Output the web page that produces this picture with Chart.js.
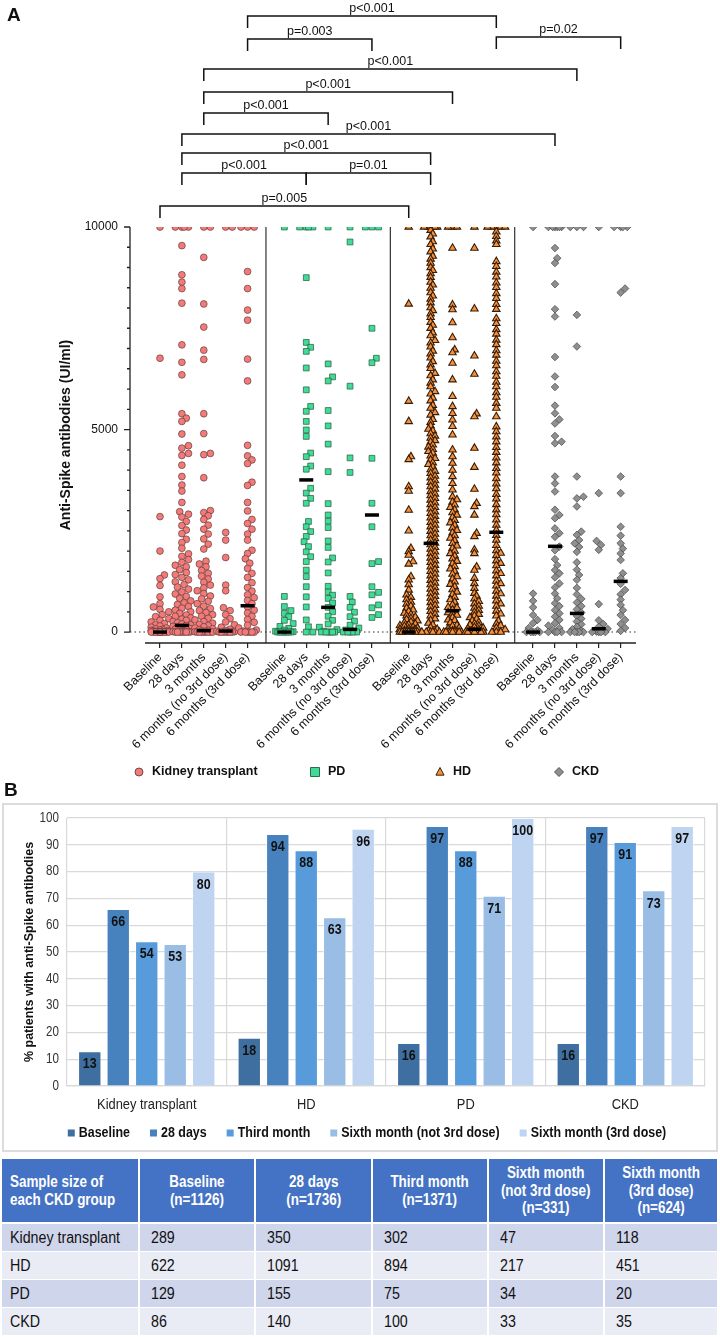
<!DOCTYPE html>
<html>
<head>
<meta charset="utf-8">
<script src="https://cdn.jsdelivr.net/npm/chart.js@4/dist/chart.umd.min.js"></script>
<style>
  body { margin: 0; background: #fff; }
  #page { position: relative; width: 720px; height: 1337px; overflow: hidden; }
  .panel-label { position: absolute; font-family: 'Liberation Sans', Arial, sans-serif; font-weight: bold; font-size: 19px; color: #111; }
  #boxB { position: absolute; left: 2px; top: 803px; width: 716px; height: 349px; box-sizing: border-box; border: 2px solid #dcdcdc; }
  #sizes { position: absolute; left: 2px; top: 1159px; width: 716px; border-collapse: collapse; table-layout: fixed;
           font-family: 'Liberation Sans', Arial, sans-serif; font-size: 16px; }
  #sizes th { background: #4472c4; color: #fff; font-weight: bold; font-size: 17px; height: 63px; line-height: 17.5px; padding: 0;
              border-right: 2px solid #fff; border-bottom: 2px solid #fff; text-align: center; overflow: visible; }
  #sizes th:first-child { text-align: left; padding-left: 8px; }
  #sizes td { height: 27px; padding: 0 0 0 11px; color: #111; border-right: 2px solid #fff; border-bottom: 1.5px solid #fff; overflow: visible; }
  #sizes td:first-child { padding-left: 8px; }
  #sizes tbody tr:nth-child(odd) td { background: #cfd5ea; }
  #sizes tbody tr:nth-child(even) td { background: #e9ebf5; }
  /* condensed look: no narrow face is installed, so squeeze the text */
  .nh { display: inline-block; white-space: nowrap; transform: scaleX(0.79); transform-origin: center center; }
  th:first-child .nh { transform-origin: left center; }
  .nb { display: inline-block; white-space: nowrap; transform: scaleX(0.89); transform-origin: left center; }
</style>
</head>
<body>
<div id="page">
  <canvas id="chartA" width="720" height="800" style="position:absolute;left:0;top:0;"></canvas>
  <div class="panel-label" style="left:7px;top:4px;">A</div>
  <div class="panel-label" style="left:4px;top:779px;">B</div>
  <div id="boxB"><canvas id="chartB" width="712" height="345"></canvas></div>
  <table id="sizes"><colgroup></colgroup><thead></thead><tbody></tbody></table>
</div>
<script>
// ---------- panel A data ----------
const timepoints = ['Baseline', '28 days', '3 months', '6 months (no 3rd dose)', '6 months (3rd dose)'];
const groupsA = ['Kidney transplant', 'PD', 'HD', 'CKD'];

const kidneyBaseline = [10000, 6760, 2850, 2000, 1410, 1320, 1150, 870, 700, 620, 560, 500, 430, 380, 330, 290, 250, 210, 180, 150, 120, 100, 80, 65, 50, 40, 30, 25, 20, 15, 10, 8, 5, 3, 0, 0, 0, 0, 0, 0, 0, 0, 0, 0, 0];
const kidney28d = [10000, 10000, 10000, 10000, 9540, 8820, 8640, 8480, 8120, 7090, 6660, 6350, 5390, 5280, 5200, 4890, 4600, 4540, 4410, 4360, 4120, 3840, 3630, 3480, 3200, 2970, 2910, 2840, 2730, 2630, 2520, 2430, 2290, 2210, 2070, 1930, 1870, 1790, 1720, 1650, 1610, 1540, 1470, 1420, 1350, 1290, 1240, 1170, 1110, 1060, 990, 940, 880, 830, 770, 720, 680, 630, 590, 540, 500, 460, 420, 390, 350, 320, 290, 260, 230, 200, 180, 160, 140, 120, 100, 80, 70, 60, 45, 30, 20, 10, 5, 0, 0, 0, 0, 0, 0, 0];
const kidney3m = [10000, 10000, 9250, 8100, 7530, 6960, 6730, 5390, 4900, 4410, 4380, 3810, 3000, 2950, 2870, 2780, 2640, 2540, 2420, 2300, 2170, 2050, 1750, 1680, 1610, 1520, 1450, 1380, 1310, 1230, 1160, 1090, 1020, 950, 890, 820, 760, 700, 640, 580, 530, 480, 430, 390, 340, 300, 260, 220, 190, 160, 130, 100, 80, 60, 40, 30, 20, 10, 5, 0, 0, 0, 0, 0, 0, 0, 0];
const kidney6mNo3rd = [10000, 10000, 2460, 2270, 1840, 1160, 1020, 600, 530, 430, 330, 250, 180, 120, 70, 40, 20, 10, 0, 0, 0, 0, 0, 0, 0];
const kidney6m3rd = [10000, 10000, 10000, 8900, 8480, 7950, 7700, 6740, 6200, 4610, 4350, 4250, 4160, 3700, 3620, 3200, 2990, 2780, 2680, 2540, 2420, 2270, 2020, 1940, 1810, 1700, 1570, 1450, 1350, 1220, 1100, 1010, 920, 850, 780, 700, 620, 540, 470, 390, 310, 240, 170, 100, 50, 20, 0, 0, 0, 0, 0, 0];

const pdBaseline = [10000, 880, 630, 530, 460, 380, 290, 210, 140, 90, 50, 20, 10, 0, 0, 0, 0, 0, 0, 0];
const pd28d = [10000, 10000, 10000, 10000, 8750, 7150, 7030, 6930, 6520, 5980, 5570, 5450, 5200, 4990, 4830, 4420, 4330, 4100, 4020, 3550, 3430, 3300, 3180, 2730, 2600, 2480, 2360, 2230, 2110, 1980, 1860, 1740, 1530, 1370, 1120, 870, 620, 300, 130, 0, 0];
const pd3m = [10000, 6620, 6300, 6200, 5470, 5090, 4640, 3960, 3170, 2890, 2740, 2580, 2250, 2090, 1830, 1730, 1460, 1130, 990, 910, 830, 720, 610, 500, 390, 290, 200, 120, 60, 20, 0, 0, 0, 0, 0, 0];
const pd6mNo3rd = [10000, 9630, 6070, 4300, 3940, 880, 740, 610, 490, 380, 270, 170, 100, 50, 20, 0, 0, 0, 0, 0];
const pd6m3rd = [10000, 10000, 10000, 7500, 6760, 6650, 4290, 3180, 2600, 1740, 1690, 1120, 980, 920, 670, 600, 430, 360];

const hdBaseline = [10000, 8100, 5700, 5200, 4330, 4260, 3590, 3480, 3010, 2500, 2070, 1990, 1900, 1740, 1680, 1370, 1290, 1170, 1040, 920, 860, 800, 740, 690, 640, 590, 550, 510, 470, 430, 400, 370, 340, 310, 280, 250, 230, 200, 180, 160, 140, 120, 100, 85, 70, 55, 40, 30, 20, 10, 5, 0, 0, 0, 0, 0, 0, 0, 0, 0, 0, 0, 0, 0, 0, 0, 0, 0, 0, 0, 0];
const hd28d = [10000, 10000, 10000, 10000, 10000, 10000, 9920, 9830, 9760, 9640, 9570, 9460, 9390, 9280, 9210, 9110, 9000, 8930, 8850, 8760, 8640, 8570, 8490, 8380, 8300, 8220, 8130, 8010, 7940, 7860, 7770, 7650, 7580, 7500, 7390, 7320, 7200, 7140, 7040, 6940, 6870, 6770, 6680, 6600, 6510, 6390, 6330, 6230, 6150, 6060, 5940, 5880, 5780, 5710, 5600, 5530, 5420, 5360, 5250, 5180, 5090,
  5010, 4970, 4900, 4840, 4790, 4730, 4690, 4620, 4570, 4510, 4460, 4420, 4350, 4290, 4250, 4180, 4140, 4080, 4010, 3970, 3920, 3850, 3810, 3740, 3700, 3630, 3590, 3530, 3470, 3410, 3370, 3300, 3260, 3190, 3150, 3080, 3040, 2970, 2930, 2860, 2820, 2750, 2710, 2640, 2600, 2530, 2490, 2420, 2380, 2310, 2270, 2200, 2160, 2090, 2050, 1980, 1940, 1870, 1830, 1760, 1720, 1650, 1610, 1540, 1500, 1430, 1390, 1320, 1280, 1210, 1170, 1100, 1060, 990, 950, 880, 840, 770, 730, 660, 620, 550, 510, 440, 400, 330, 290, 220, 180, 110, 70, 30, 0, 0, 0, 0, 0, 0];
const hd3m = [10000, 10000, 10000, 9480, 8080, 7960, 7640, 7270, 6970, 6900, 6640, 6230, 5820, 5570, 5400, 5240, 5080, 4870, 4500, 4330, 4170, 4000, 3840, 3670, 3510, 3340,
  3270, 3210, 3140, 3080, 3020, 2950, 2890, 2830, 2760, 2700, 2640, 2570, 2510, 2450, 2380, 2320, 2260, 2190, 2130, 2070, 2000, 1940, 1880, 1810, 1750, 1690, 1620, 1560, 1500, 1430, 1370, 1310, 1240, 1180, 1120, 1050, 990, 930, 860, 800, 740, 670, 610, 600, 550, 480, 450, 420, 360, 300, 290, 230, 170, 150, 100, 80, 50, 30, 0, 0, 0, 0, 0, 0, 0, 0, 0, 0];
const hd6mNo3rd = [10000, 9480, 7980, 6820, 6370, 5390, 5320, 4540, 4070, 3530, 3180, 3100, 2890, 2440, 2360, 2030, 1940, 1610, 1530, 1330, 1200, 1080, 960, 890, 820, 760, 700, 640, 590, 540, 490, 440, 400, 360, 320, 280, 240, 210, 180, 150, 120, 100, 80, 60, 40, 25, 10, 0, 0, 0, 0, 0, 0, 0, 0, 0, 0];
const hd6m3rd = [10000, 10000, 10000, 10000, 10000, 9880, 9770, 9660, 9570, 9150, 9030, 8890, 8770, 8620, 8510, 8360, 8240, 8090, 7970, 7740, 7620, 7470, 7360, 7210, 7100, 6950, 6840, 6690, 6580, 6430, 6320, 6170, 6060, 5910, 5800, 5650, 5530, 5320, 5070, 4950, 4820, 4700, 4560, 4440, 4300, 4180, 4040, 3930, 3790, 3660, 3540, 3400, 3290, 3150, 3020, 2900, 2770, 2640, 2520, 2390, 2270, 2140, 2010, 1950, 1890, 1760, 1700, 1640, 1510, 1450, 1390, 1260, 1200, 1140, 1010, 950, 890, 770, 700, 640, 520, 450, 400, 280, 200, 160, 100, 60, 0, 0, 0];

const ckdBaseline = [10000, 950, 770, 610, 420, 300, 220, 100, 40, 0, 0, 0, 0, 0];
const ckd28d = [10000, 10000, 10000, 10000, 10000, 10000, 9480, 9230, 9110, 8590, 7970, 7790, 6790, 6310, 6050, 5590, 5400, 5250, 5150, 4840, 4700, 4660, 3840, 3670, 3470, 3020, 2890, 2810, 2560, 2440, 2350, 2110, 2020, 1800, 1650, 1530, 1450, 1350, 1200, 1100, 950, 830, 710, 640, 540, 460, 380, 300, 220, 160, 100, 50, 0, 0, 0, 0];
const ckd3m = [10000, 10000, 10000, 7830, 7050, 3840, 3340, 3300, 3100, 2480, 2400, 2270, 2190, 2100, 1980, 1720, 1540, 1410, 1290, 1090, 930, 820, 730, 640, 560, 480, 400, 330, 260, 190, 130, 70, 30, 0, 0, 0, 0, 0];
const ckd6mNo3rd = [10000, 3430, 2250, 2150, 2030, 690, 290, 200, 130, 80, 40, 10, 0, 0, 0, 0];
const ckd6m3rd = [10000, 10000, 10000, 10000, 8480, 8380, 3840, 3430, 2600, 2380, 2190, 2060, 1940, 1780, 1450, 1330, 1190, 1040, 930, 800, 670, 540, 420, 300, 200, 100, 30];

const kidneyMedians = [0, 165, 33, 25, 650];
const pdMedians = [0, 3756, 610, 66, 2890];
const hdMedians = [0, 2190, 527, 66, 2463];
const ckdMedians = [0, 2117, 461, 82, 1252];

const yTicksA = [0, 5000, 10000];

// significance brackets: timepoint column index (0-19) and label
const pFrom = [4, 4, 14, 2, 2, 2, 1, 1, 1, 6, 0];
const pTo = [14, 9, 19, 17, 12, 7, 16, 11, 6, 11, 10];
const pText = ['p<0.001', 'p=0.003', 'p=0.02', 'p<0.001', 'p<0.001', 'p<0.001', 'p<0.001', 'p<0.001', 'p<0.001', 'p=0.01', 'p=0.005'];

// ---------- panel B data ----------
const groupsB = ['Kidney transplant', 'HD', 'PD', 'CKD'];
const seriesB = ['Baseline', '28 days', 'Third month', 'Sixth month (not 3rd dose)', 'Sixth month (3rd dose)'];
const pctBaseline = [13, 18, 16, 16];
const pct28d = [66, 94, 97, 97];
const pctThird = [54, 88, 88, 91];
const pctSixthNo3rd = [53, 63, 71, 73];
const pctSixth3rd = [80, 96, 100, 97];
const yTicksB = [0, 10, 20, 30, 40, 50, 60, 70, 80, 90, 100];

// ---------- table data ----------
const tableHead = ['Sample size of<br>each CKD group', 'Baseline<br>(n=1126)', '28 days<br>(n=1736)', 'Third month<br>(n=1371)', 'Sixth month<br>(not 3rd dose)<br>(n=331)', 'Sixth month<br>(3rd dose)<br>(n=624)'];
const tableGroups = ['Kidney transplant', 'HD', 'PD', 'CKD'];
const nBaseline = [289, 622, 129, 86];
const n28d = [350, 1091, 155, 140];
const nThird = [302, 894, 75, 100];
const nSixthNo3rd = [47, 217, 34, 33];
const nSixth3rd = [118, 451, 20, 35];

// ---------- styles ----------
const SANS = "'Liberation Sans', Arial, Helvetica, sans-serif";
const SQUEEZE = 0.83;      // condensed look for panel B text
const GROUP_STEP = 5.68;   // x distance between group blocks (in column units)
const colPos = (g, i) => g * GROUP_STEP + i;

const styleA = [
  { pointStyle: 'circle', radius: 3.4, bg: '#f47a78', border: 'rgba(90,60,60,0.85)', bw: 0.8, gap: 5.4 },
  { pointStyle: 'rect', radius: 4.1, bg: '#3fdc98', border: 'rgba(40,90,60,0.9)', bw: 0.8, gap: 5.4 },
  { pointStyle: 'triangle', radius: 4.3, bg: '#f6913d', border: 'rgba(55,28,6,1)', bw: 1.1, gap: 3.3 },
  { pointStyle: 'rectRot', radius: 3.8, bg: '#8f8f8f', border: 'rgba(70,70,70,0.9)', bw: 0.8, gap: 5 }
];

const columnsA = [
  [kidneyBaseline, kidney28d, kidney3m, kidney6mNo3rd, kidney6m3rd],
  [pdBaseline, pd28d, pd3m, pd6mNo3rd, pd6m3rd],
  [hdBaseline, hd28d, hd3m, hd6mNo3rd, hd6m3rd],
  [ckdBaseline, ckd28d, ckd3m, ckd6mNo3rd, ckd6m3rd]
];
const mediansA = [kidneyMedians, pdMedians, hdMedians, ckdMedians];

const positions = [];
groupsA.forEach((g, gi) => timepoints.forEach((t, ti) => positions.push(colPos(gi, ti))));
const separators = [1, 2, 3].map(g => (colPos(g - 1, 4) + colPos(g, 0)) / 2);

const medianPoints = [];
mediansA.forEach((m, gi) => m.forEach((v, ti) => medianPoints.push({ x: colPos(gi, ti), y: v })));

const datasetsA = [{
  data: medianPoints, pointStyle: 'line', radius: 7, borderWidth: 3.5, borderColor: '#000', backgroundColor: '#000', order: 0
}];
columnsA.forEach((cols, gi) => {
  const pts = [];
  cols.forEach((vals, ti) => vals.forEach(v => pts.push({ x: colPos(gi, ti), y: v, col: ti })));
  datasetsA.push({
    data: pts, order: 1, swarmGap: styleA[gi].gap,
    pointStyle: styleA[gi].pointStyle, radius: styleA[gi].radius,
    backgroundColor: styleA[gi].bg, borderColor: styleA[gi].border, borderWidth: styleA[gi].bw
  });
});

function drawMarker(ctx, style, x, y, r) {
  ctx.beginPath();
  if (style === 'circle') ctx.arc(x, y, r, 0, Math.PI * 2);
  else if (style === 'rect') ctx.rect(x - r, y - r, 2 * r, 2 * r);
  else if (style === 'triangle') { ctx.moveTo(x, y - r); ctx.lineTo(x + r * 0.9, y + r * 0.7); ctx.lineTo(x - r * 0.9, y + r * 0.7); ctx.closePath(); }
  else { ctx.moveTo(x, y - r); ctx.lineTo(x + r, y); ctx.lineTo(x, y + r); ctx.lineTo(x - r, y); ctx.closePath(); }
  ctx.fill(); ctx.stroke();
}

const panelAPlugin = {
  id: 'panelA',
  beforeDatasetsDraw(chart) {
    const { ctx, chartArea: a, scales: { x, y } } = chart;
    ctx.save();
    ctx.strokeStyle = '#333'; ctx.lineWidth = 1.1;
    ctx.setLineDash([1.5, 3]);
    ctx.beginPath();
    ctx.moveTo(a.left, y.getPixelForValue(0)); ctx.lineTo(a.right, y.getPixelForValue(0));
    ctx.stroke();
    ctx.setLineDash([]);
    ctx.strokeStyle = '#333'; ctx.lineWidth = 1.2;
    ctx.beginPath();
    separators.forEach(v => {
      const px = x.getPixelForValue(v);
      ctx.moveTo(px, y.getPixelForValue(10000)); ctx.lineTo(px, a.bottom);
    });
    ctx.stroke();
    ctx.restore();
  },
  afterDraw(chart) {
    const { ctx, chartArea: a, scales: { x, y } } = chart;
    ctx.save();
    ctx.strokeStyle = '#222'; ctx.lineWidth = 1.3;
    // y axis with minor ticks
    ctx.beginPath();
    ctx.moveTo(a.left, y.getPixelForValue(10000)); ctx.lineTo(a.left, y.getPixelForValue(0));
    for (let v = 0; v <= 10000; v += 500) {
      const py = y.getPixelForValue(v);
      ctx.moveTo(a.left - (v % 5000 === 0 ? 6 : 3), py); ctx.lineTo(a.left, py);
    }
    // x axis line
    ctx.moveTo(a.left + 15, a.bottom); ctx.lineTo(a.right, a.bottom);
    ctx.stroke();

    // brackets
    const tops = [16, 39, 37, 69, 92, 113, 134, 153, 173, 173, 206];
    ctx.lineWidth = 1.5; ctx.strokeStyle = '#111';
    ctx.fillStyle = '#111';
    ctx.font = '12.5px ' + SANS;
    ctx.textAlign = 'center'; ctx.textBaseline = 'alphabetic';
    pFrom.forEach((f, i) => {
      const x1 = x.getPixelForValue(positions[f]);
      const x2 = x.getPixelForValue(positions[pTo[i]]);
      const t = tops[i];
      ctx.beginPath();
      ctx.moveTo(x1, t + 12); ctx.lineTo(x1, t); ctx.lineTo(x2, t); ctx.lineTo(x2, t + 12);
      ctx.stroke();
      ctx.fillText(pText[i], (x1 + x2) / 2, t - 4);
    });

    // legend
    const lx = [139, 315, 440, 559];
    const ly = 772;
    ctx.font = 'bold 12.5px ' + SANS;
    ctx.textAlign = 'left'; ctx.textBaseline = 'middle';
    groupsA.forEach((g, gi) => {
      ctx.fillStyle = styleA[gi].bg; ctx.strokeStyle = styleA[gi].border; ctx.lineWidth = 1;
      drawMarker(ctx, styleA[gi].pointStyle, lx[gi], ly, gi === 0 ? 4 : 4.5);
      ctx.fillStyle = '#111';
      ctx.fillText(g, lx[gi] + 13, ly);
    });
    ctx.restore();
  }
};

const chartA = new Chart(document.getElementById('chartA'), {
  type: 'scatter',
  data: { datasets: datasetsA },
  options: {
    responsive: false, animation: false, events: [],
    layout: { padding: { top: 227, right: 84, left: 0, bottom: 0 } },
    plugins: { legend: { display: false }, tooltip: { enabled: false } },
    scales: {
      x: {
        type: 'linear', min: -1.37, max: 21.74,
        afterBuildTicks: s => { s.ticks = positions.map(v => ({ value: v })); },
        afterFit: s => { s.height = 157; },
        grid: { drawOnChartArea: false, drawTicks: true, tickLength: 5, color: '#222', lineWidth: 1.2 },
        border: { display: false },
        ticks: {
          autoSkip: false, maxRotation: 45, minRotation: 45, padding: 2,
          font: { family: SANS, size: 12.5 }, color: '#111',
          callback: (v, i) => timepoints[i % timepoints.length]
        }
      },
      y: {
        min: -270, max: 10000,
        afterBuildTicks: s => { s.ticks = yTicksA.map(v => ({ value: v })); },
        afterFit: s => { s.width = 130; },
        grid: { display: false, drawTicks: false },
        border: { display: false },
        ticks: { padding: 12, font: { family: SANS, size: 12 }, color: '#111', callback: v => String(v) },
        title: {
          display: true, text: 'Anti-Spike antibodies (UI/ml)', color: '#111',
          font: { family: SANS, size: 14, weight: 'bold' }, padding: { top: 58, bottom: 0 }
        }
      }
    }
  },
  plugins: [panelAPlugin]
});

// spread overlapping points sideways (beeswarm) using the chart's own scales
function swarm(chart) {
  const xs = chart.scales.x, ys = chart.scales.y;
  const STEP = 2.2, MAXOFF = 9;
  for (let di = 1; di < chart.data.datasets.length; di++) {
    const ds = chart.data.datasets[di];
    const D = ds.swarmGap;
    const byCol = {};
    ds.data.forEach(p => { (byCol[p.col] = byCol[p.col] || []).push(p); });
    Object.values(byCol).forEach(pts => {
      const cx = xs.getPixelForValue(pts[0].x);
      pts.sort((a, b) => a.y - b.y);
      const placed = [];
      pts.forEach(p => {
        const py = ys.getPixelForValue(p.y);
        let best = 0, bestDist = -1;
        for (let k = 0; ; k++) {
          const dx = (k % 2 ? 1 : -1) * Math.ceil(k / 2) * STEP;
          if (Math.abs(dx) > MAXOFF) break;
          let minD = Infinity;
          placed.forEach(q => { const d = Math.hypot(q.dx - dx, q.py - py); if (d < minD) minD = d; });
          if (minD >= D) { best = dx; bestDist = minD; break; }
          if (minD > bestDist) { bestDist = minD; best = dx; }
        }
        placed.push({ dx: best, py });
        p.x = xs.getValueForPixel(cx + best);
      });
    });
  }
  chart.update('none');
}
swarm(chartA);

// ---------- panel B ----------
const barColors = ['#3f6fa0', '#4782be', '#579bda', '#9abde5', '#bed4f0'];
const valuesB = [pctBaseline, pct28d, pctThird, pctSixthNo3rd, pctSixth3rd];

function squeezedText(ctx, text, x, y, align) {
  ctx.save();
  ctx.translate(x, y);
  ctx.scale(SQUEEZE, 1);
  ctx.textAlign = align;
  ctx.fillText(text, 0, 0);
  ctx.restore();
}

const panelBPlugin = {
  id: 'panelB',
  afterDatasetsDraw(chart) {
    const { ctx, chartArea: a, scales: { x, y } } = chart;
    ctx.save();
    ctx.fillStyle = '#111'; ctx.textBaseline = 'middle';
    ctx.font = 'bold 15px ' + SANS;
    chart.data.datasets.forEach((ds, i) => {
      chart.getDatasetMeta(i).data.forEach((bar, j) => {
        squeezedText(ctx, String(ds.data[j]), bar.x, bar.y + 13, 'center');
      });
    });
    // axis labels
    ctx.font = '14px ' + SANS; ctx.fillStyle = '#333';
    yTicksB.forEach(v => squeezedText(ctx, String(v), a.left - 8, y.getPixelForValue(v), 'right'));
    ctx.font = '15.5px ' + SANS; ctx.fillStyle = '#222';
    groupsB.forEach((g, i) => squeezedText(ctx, g, x.getPixelForValue(i), a.bottom + 19, 'center'));
    ctx.restore();
  },
  afterDraw(chart) {
    const ctx = chart.ctx;
    ctx.save();
    ctx.font = 'bold 15px ' + SANS;
    ctx.textBaseline = 'middle'; ctx.fillStyle = '#111';
    const box = 7, gapText = 4, gapItem = 20;
    const widths = seriesB.map(s => box + gapText + ctx.measureText(s).width * SQUEEZE);
    const total = widths.reduce((a, b) => a + b, 0) + gapItem * (widths.length - 1);
    let lx = 363 - total / 2;
    const ly = 328;
    seriesB.forEach((s, i) => {
      ctx.fillStyle = barColors[i];
      ctx.fillRect(lx, ly - box / 2, box, box);
      ctx.fillStyle = '#111';
      squeezedText(ctx, s, lx + box + gapText, ly, 'left');
      lx += widths[i] + gapItem;
    });
    ctx.restore();
  }
};

new Chart(document.getElementById('chartB'), {
  type: 'bar',
  data: {
    labels: groupsB,
    datasets: seriesB.map((s, i) => ({
      label: s, data: valuesB[i], backgroundColor: barColors[i],
      borderColor: 'rgba(255,255,255,0.5)', borderWidth: 1,
      categoryPercentage: 0.893, barPercentage: 0.82
    }))
  },
  options: {
    responsive: false, animation: false, events: [],
    layout: { padding: { top: 13, right: 11, left: 0, bottom: 0 } },
    plugins: { legend: { display: false }, tooltip: { enabled: false } },
    scales: {
      x: {
        grid: { color: '#d9d9d9', drawTicks: false, offset: true, lineWidth: 1.2 },
        border: { color: '#d9d9d9', width: 1.2 },
        ticks: { display: false },
        afterFit: s => { s.height = 64; }
      },
      y: {
        min: 0, max: 100,
        ticks: { stepSize: 10, display: false },
        grid: { color: '#d9d9d9', drawTicks: false, lineWidth: 1.2 },
        border: { display: false },
        afterFit: s => { s.width = 63; },
        title: {
          display: true, text: '% patients with anti-Spike antibodies', color: '#111',
          font: { family: SANS, size: 12.5, weight: 'bold' }, padding: { top: 18, bottom: 0 }
        }
      }
    }
  },
  plugins: [panelBPlugin]
});

// ---------- table ----------
const colWidths = [137, 116, 117, 116, 116, 114];
document.querySelector('#sizes colgroup').innerHTML = colWidths.map(w => '<col style="width:' + w + 'px">').join('');
document.querySelector('#sizes thead').innerHTML =
  '<tr>' + tableHead.map(h => '<th><span class="nh">' + h + '</span></th>').join('') + '</tr>';
const colsN = [nBaseline, n28d, nThird, nSixthNo3rd, nSixth3rd];
document.querySelector('#sizes tbody').innerHTML = tableGroups.map((g, i) =>
  '<tr><td><span class="nb">' + g + '</span></td>' +
  colsN.map(c => '<td><span class="nb">' + c[i] + '</span></td>').join('') + '</tr>').join('');
</script>
</body>
</html>
